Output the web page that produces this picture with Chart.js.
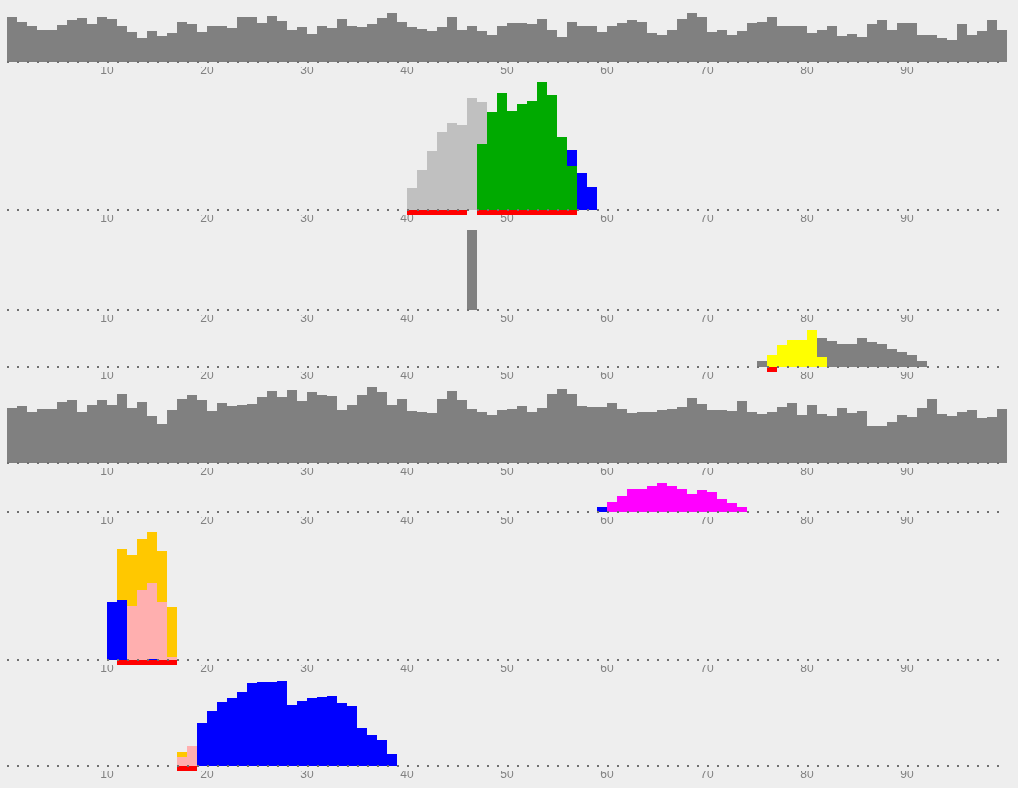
<!DOCTYPE html>
<html><head><meta charset="utf-8">
<script src="https://cdn.jsdelivr.net/npm/chart.js@4"></script>
<style>
html,body{margin:0;padding:0;background:#eeeeee;width:1018px;height:788px;overflow:hidden;}
canvas{position:absolute;left:0;}
</style></head><body>
<script>
// ---- data (bin k covers [k-1, k]) ----
const tickLabels = [10,20,30,40,50,60,70,80,90];

const p1Gray = [45,40,36,32,32,37,42,44,38,45, 43,36,30,24,31,26,29,40,38,30,
  36,36,34,45,45,39,46,41,32,35, 28,36,34,43,36,35,38,44,49,40,
  35,33,31,35,45,32,36,31,27,36, 39,39,38,43,32,25,40,36,36,30,
  36,39,42,40,29,27,32,43,49,45, 30,32,27,31,39,40,45,36,36,36,
  29,32,36,26,28,25,38,42,32,39, 39,27,27,24,22,38,27,31,42,32];

const p2GreenStart = 48, p2Green = [66,98,117,99,106,109,128,115,73,44];
const p2LightStart = 41, p2Light = [22,40,59,78,87,85,112,42];
const p2BlueStart = 57, p2Blue = [16,37,23];
const p2RedStart = 41, p2Red = [-5,-5,-5,-5,-5,-5,null,-5,-5,-5,-5,-5,-5,-5,-5,-5,-5];

const p3GrayStart = 47, p3Gray = [80];

const p4YellowStart = 77, p4Yellow = [12,22,27,27,37,10];
const p4GrayStart = 76, p4Gray = [6,null,null,null,null,null,19,26,23,23,29,25,23,18,15,12,6];
const p4RedStart = 77, p4Red = [-5];

const p5Gray = [55,57,51,54,54,61,63,51,58,63, 58,69,55,61,47,39,53,64,68,63,
  52,60,57,58,59,66,72,66,73,62, 71,68,67,53,58,68,76,71,58,64,
  52,51,50,64,72,63,54,51,48,53, 54,57,51,55,69,74,69,57,56,56,
  60,54,50,51,51,53,54,56,65,59, 53,53,52,62,51,49,51,56,60,48,
  58,49,47,55,50,52,37,37,41,48, 46,55,64,49,47,51,53,45,46,54];

const p6BlueStart = 60, p6Blue = [5];
const p6MagentaStart = 61, p6Magenta = [10,16,23,23,26,29,26,23,18,22,20,13,9,5];

const p7Start = 11;
const p7Blue   = [58,60,null,null,1,null,null];
const p7Pink   = [null,null,54,70,76,58,3];
const p7Orange = [null,51,51,51,51,51,50];
const p7RedStart = 12, p7Red = [-5,-5,-5,-5,-5,-5];

const p8PinkStart = 18, p8Pink = [9,20];
const p8OrangeStart = 18, p8Orange = [5];
const p8BlueStart = 20, p8Blue = [43,55,64,68,74,83,84,84,85,61,65,68,69,70,63,60,38,31,26,12];
const p8RedStart = 18, p8Red = [-5,-5];

// ---- styles ----
const C = {gray:'#808080', light:'#c0c0c0', green:'#00aa00', blue:'#0000ff', red:'#ff0000',
  yellow:'#ffff00', magenta:'#ff00ff', orange:'#ffc800', pink:'#ffafaf'};

function bins(start, values){
  const pts = [];
  for (let k = 1; k <= 100; k++){
    const i = k - start;
    const v = (i >= 0 && i < values.length) ? values[i] : null;
    pts.push({x: k - 0.5, y: v});
  }
  return pts;
}
function ds(start, values, color){
  return {type:'bar', data: bins(start, values), backgroundColor: color, borderWidth: 0,
    inflateAmount: 0, barPercentage: 1, categoryPercentage: 1, stack: 's'};
}

const panels = [
  {baseline:62, max:49, sets:[ds(1,p1Gray,C.gray)]},
  {baseline:210, max:128, sets:[ds(p2GreenStart,p2Green,C.green), ds(p2LightStart,p2Light,C.light),
     ds(p2BlueStart,p2Blue,C.blue), ds(p2RedStart,p2Red,C.red)]},
  {baseline:310, max:80, sets:[ds(p3GrayStart,p3Gray,C.gray)]},
  {baseline:367, max:37, sets:[ds(p4YellowStart,p4Yellow,C.yellow), ds(p4GrayStart,p4Gray,C.gray),
     ds(p4RedStart,p4Red,C.red)]},
  {baseline:463, max:76, sets:[ds(1,p5Gray,C.gray)]},
  {baseline:512, max:29, sets:[ds(p6BlueStart,p6Blue,C.blue), ds(p6MagentaStart,p6Magenta,C.magenta)]},
  {baseline:660, max:128, sets:[ds(p7Start,p7Blue,C.blue), ds(p7Start,p7Pink,C.pink),
     ds(p7Start,p7Orange,C.orange), ds(p7RedStart,p7Red,C.red)]},
  {baseline:766, max:85, sets:[ds(p8PinkStart,p8Pink,C.pink), ds(p8OrangeStart,p8Orange,C.orange),
     ds(p8BlueStart,p8Blue,C.blue), ds(p8RedStart,p8Red,C.red)]}
];

const NEG = 5, AXH = 16;
panels.forEach(p => {
  const cv = document.createElement('canvas');
  const h = p.max + NEG + AXH;
  cv.width = 1018; cv.height = h;
  cv.style.top = (p.baseline - p.max) + 'px';
  cv.style.width = '1018px'; cv.style.height = h + 'px';
  document.body.appendChild(cv);
  const baseLine = {type:'line', data:[{x:0,y:0},{x:100,y:0}], borderColor:'#707070', borderWidth:2,
    borderDash:[2,8], pointRadius:0, order:-1, stack:'base', clip:false};
  new Chart(cv, {
    data: {datasets: [...p.sets, baseLine]},
    options: {
      responsive:false, animation:false, devicePixelRatio:1,
      layout:{padding:{left:7, right:11, top:0, bottom:0}},
      plugins:{legend:{display:false}, tooltip:{enabled:false}},
      scales:{
        x:{type:'linear', min:0, max:100, stacked:true, offset:false,
          grid:{display:false, drawTicks:false, tickLength:0, offset:false}, border:{display:false},
          afterBuildTicks: s => { s.ticks = tickLabels.map(v => ({value:v})); },
          ticks:{autoSkip:false, maxRotation:0, padding:-4, color:'#808080',
            font:{family:'"Liberation Sans", Arial, sans-serif', size:12}},
          afterFit: s => { s.height = AXH; s.paddingLeft = 0; s.paddingRight = 0; }
        },
        y:{display:false, stacked:true, min:-NEG, max:p.max}
      }
    }
  });
});
</script>
</body></html>
